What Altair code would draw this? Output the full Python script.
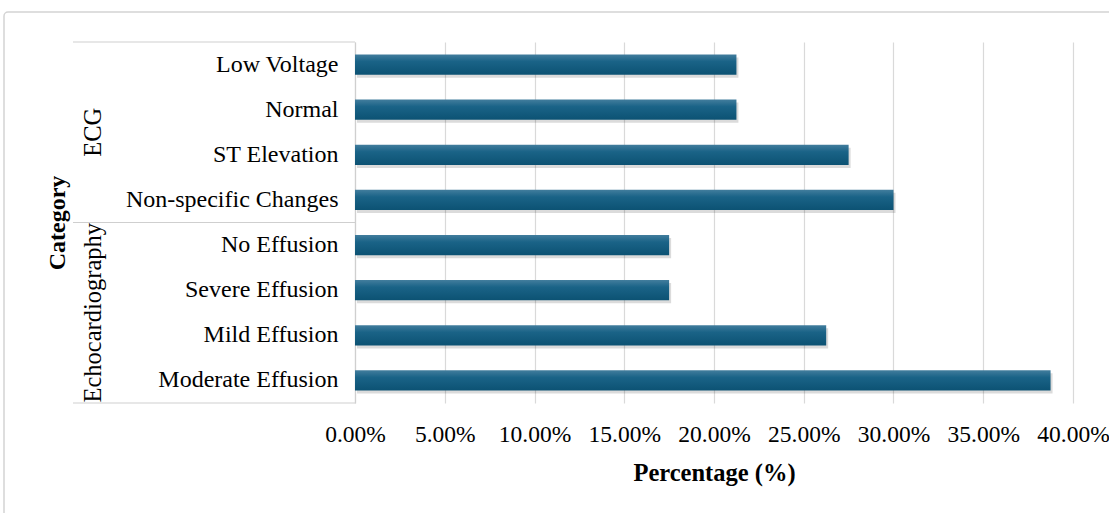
import altair as alt
import pandas as pd

groups = ["ECG", "ECG", "ECG", "ECG",
          "Echocardiography", "Echocardiography", "Echocardiography", "Echocardiography"]
items = ["Low Voltage", "Normal", "ST Elevation", "Non-specific Changes",
         "No Effusion", "Severe Effusion", "Mild Effusion", "Moderate Effusion"]
percent = [21.25, 21.25, 27.5, 30.0, 17.5, 17.5, 26.25, 38.75]
x_ticks = [0, 0.05, 0.10, 0.15, 0.20, 0.25, 0.30, 0.35, 0.40]

group_labels = ["ECG", "Echocardiography"]
group_anchor = ["Normal", "Severe Effusion"]

W, H = 718, 361
STEP = H / len(items)
FONT = "Liberation Serif"

df = pd.DataFrame({"group": groups, "item": items, "pct": percent})
df["frac"] = df["pct"] / 100.0

gdf = pd.DataFrame({"label": group_labels, "item": group_anchor})
sep = pd.DataFrame({"item": ["Non-specific Changes"]})

yscale = alt.Scale(domain=items, paddingInner=0.55, paddingOuter=0.275)
xscale = alt.Scale(domain=[0, 0.4], nice=False)

y_enc = alt.Y("item:N", sort=items, scale=yscale,
              axis=alt.Axis(title="Category", titleFont=FONT, titleFontSize=24,
                            titleFontWeight="bold", titleColor="#000",
                            titleAngle=270, titleX=-298, titleY=H / 2,
                            titleAlign="center", titleBaseline="middle",
                            labelFont=FONT, labelFontSize=24, labelColor="#000",
                            labelPadding=17, labelLimit=0, ticks=False, domain=True,
                            domainColor="#cfcfcf", domainWidth=1.2))
x_enc = alt.X("frac:Q", scale=xscale,
              axis=alt.Axis(title="Percentage (%)", titleFont=FONT, titleFontSize=24.5,
                            titleFontWeight="bold", titleColor="#000", titlePadding=16,
                            labelFont=FONT, labelFontSize=23.5, labelColor="#000",
                            labelPadding=19, format=".2%", values=x_ticks,
                            labelOverlap=False, labelLimit=0, labelFlush=False,
                            grid=True, gridColor="#d9d9d9", gridWidth=1.2,
                            domain=False, ticks=False))

base = alt.Chart(df)

border = alt.Chart(pd.DataFrame({"k": [0]})).mark_rect(
    fill="transparent", stroke="#d4d4d4", strokeWidth=1.5, cornerRadius=4
).encode(x=alt.value(-351), x2=alt.value(W + 80), y=alt.value(-30), y2=alt.value(H + 160))

top_line = alt.Chart(pd.DataFrame({"k": [0]})).mark_rule(
    color="#cfcfcf", strokeWidth=1.2
).encode(x=alt.value(-282), x2=alt.value(0), y=alt.value(0))
bottom_line = alt.Chart(pd.DataFrame({"k": [0]})).mark_rule(
    color="#cfcfcf", strokeWidth=1.2
).encode(x=alt.value(-282), x2=alt.value(0), y=alt.value(H))
sep_line = alt.Chart(sep).mark_rule(
    color="#cfcfcf", strokeWidth=1.2, yOffset=STEP / 2
).encode(y=alt.Y("item:N", sort=items, scale=yscale), x=alt.value(-282), x2=alt.value(0))

group_text = alt.Chart(gdf).mark_text(
    angle=270, font=FONT, fontSize=24.5, color="#000", align="center",
    baseline="middle", yOffset=STEP / 2
).encode(y=alt.Y("item:N", sort=items, scale=yscale), x=alt.value(-261), text="label:N")

shadow = base.mark_bar(color="#000000", opacity=0.14, xOffset=2, yOffset=3).encode(
    x=alt.X("frac:Q", scale=xscale), y=alt.Y("item:N", sort=items, scale=yscale)
)

grad = alt.LinearGradient(
    gradient="linear",
    stops=[alt.GradientStop(color="#427d9d", offset=0),
           alt.GradientStop(color="#1a6387", offset=0.35),
           alt.GradientStop(color="#0c5273", offset=1)],
    x1=0, x2=0, y1=0, y2=1,
)
bars = base.mark_bar(color=grad).encode(x=x_enc, y=y_enc,
                                        tooltip=["group", "item", "pct"])

chart = alt.layer(
    border, shadow, bars, top_line, bottom_line, sep_line, group_text
).properties(
    width=W, height=H,
    autosize=alt.AutoSizeParams(type="none"),
    padding={"left": 355, "top": 42, "right": 36, "bottom": 110},
    background="white",
).configure_view(stroke=None)

chart.save("out.html", embed_options={"renderer": "svg", "actions": False})
